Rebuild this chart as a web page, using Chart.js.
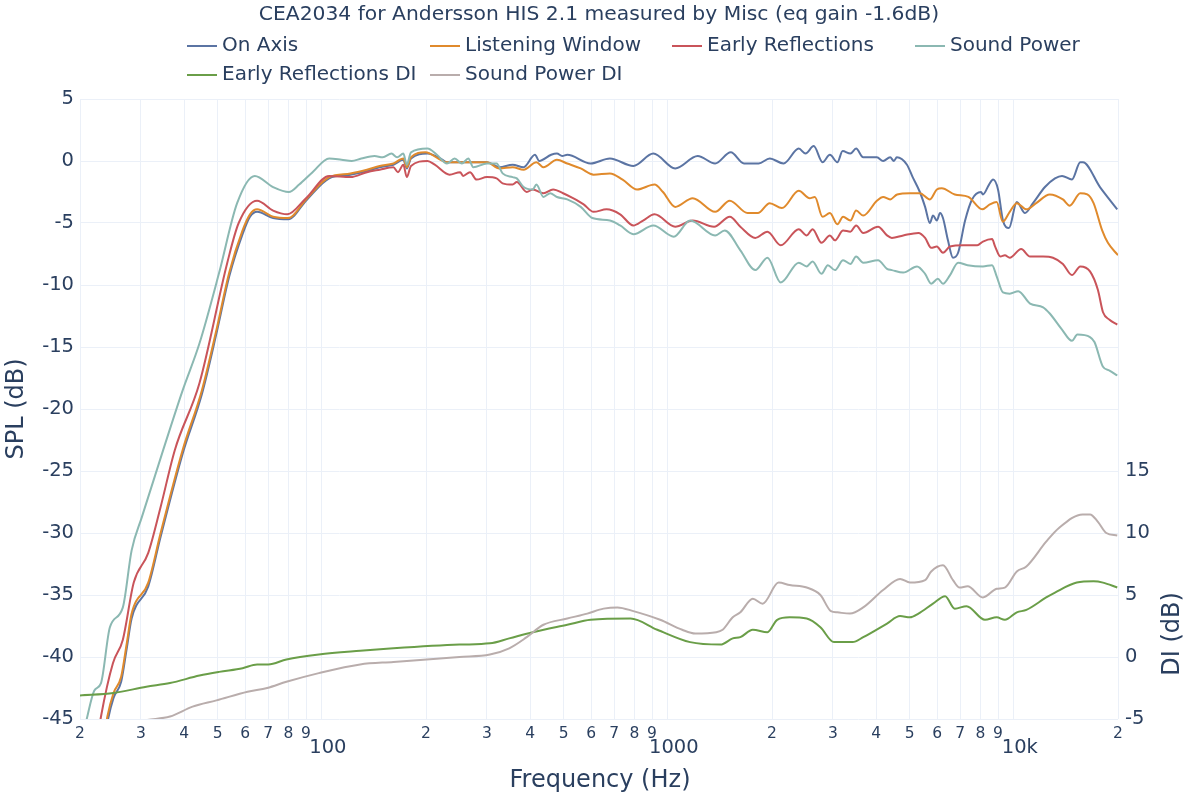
<!DOCTYPE html>
<html><head><meta charset="utf-8">
<script src="https://cdn.jsdelivr.net/npm/chart.js@4.4.1/dist/chart.umd.min.js"></script>
<style>html,body{margin:0;padding:0;background:#fff}</style>
</head><body>
<canvas id="c" width="1200" height="800"></canvas>
<script>
// ---------- data ----------
const titleText = 'CEA2034 for Andersson HIS 2.1 measured by Misc (eq gain -1.6dB)';
const seriesNames = ['On Axis','Listening Window','Early Reflections','Sound Power','Early Reflections DI','Sound Power DI'];

const freqOnAxis = [22,24,25,26.3,27.3,28.2,31.5,34.2,39.6,45,49.6,54,59,62,65,72.3,80,90,105,121,135,147,161,172,176,181,202,220,230,262,300,326,356,383,413,425,460,478,495,512,598,680,795,908,1050,1220,1370,1520,1660,1830,1970,2160,2390,2500,2640,2800,2940,3090,3200,3370,3500,3670,4020,4190,4390,4500,4590,4910,5100,5350,5540,5720,5840,5990,6120,6240,6450,6670,6900,7230,7570,8040,8140,8480,8710,9000,9300,9680,10200,10770,11360,12300,13150,13780,14720,15560,15840,17740,19900];
const splOnAxis  = [-53,-45.3,-43.3,-42.0,-39.3,-36.9,-34.3,-30.3,-23.6,-18.8,-13.9,-9.3,-5.9,-4.5,-4.1,-4.6,-4.7,-3.2,-1.4,-1.1,-0.8,-0.5,-0.3,0.1,-0.6,0.2,0.6,0.2,-0.1,-0.1,-0.1,-0.5,-0.3,-0.5,0.5,0.0,0.5,0.6,0.4,0.5,-0.2,0.2,-0.4,0.6,-0.6,0.4,-0.2,0.7,-0.2,-0.2,0.2,-0.2,1.0,0.6,1.2,-0.1,0.5,-0.1,0.8,0.6,1.0,0.3,0.3,0.0,0.3,0.0,0.3,-0.3,-1.3,-2.5,-3.7,-5.0,-4.4,-4.8,-4.2,-4.6,-6.4,-7.8,-7.4,-4.8,-3.1,-2.5,-2.7,-1.9,-1.5,-2.3,-4.8,-5.4,-3.3,-4.2,-3.4,-2.1,-1.4,-1.2,-1.5,-0.1,-0.1,-2.1,-3.9];

const freqListening = [22,24,25,26.3,27.3,28.2,31.5,34.2,39.6,45,49.6,54,59,62,65,72.3,80,90,105,121,135,147,161,172,176,181,199,230,262,300,326,356,383,417,437,478,512,560,610,680,740,815,915,968,1050,1180,1370,1510,1700,1820,1970,2136,2390,2570,2660,2800,2940,3090,3210,3370,3500,3670,4020,4190,4390,4600,5010,5350,5720,5990,6190,6750,7390,8100,8520,8920,9290,9730,10200,10870,11600,12700,13860,14500,15560,16300,17000,18000,18700,20000];
const splListening  = [-52,-44.8,-42.9,-41.6,-38.9,-36.5,-34.0,-30.0,-23.3,-18.5,-13.6,-9.0,-5.6,-4.3,-3.9,-4.5,-4.6,-3.1,-1.3,-1.0,-0.7,-0.4,-0.2,0.2,-0.5,0.3,0.7,-0.1,-0.1,-0.1,-0.6,-0.5,-0.7,-0.1,-0.5,0.1,-0.2,-0.6,-1.1,-1.0,-1.5,-2.3,-1.9,-2.5,-3.7,-3.0,-4.1,-3.2,-4.2,-4.2,-3.4,-3.8,-2.4,-3.0,-2.9,-4.5,-4.2,-5.1,-4.5,-4.8,-4.0,-4.4,-3.2,-2.9,-3.1,-2.7,-2.6,-2.6,-3.1,-2.3,-2.2,-2.7,-2.9,-3.9,-3.5,-3.3,-4.9,-4.1,-3.4,-3.9,-3.4,-2.7,-3.1,-3.6,-2.6,-2.7,-3.4,-5.6,-6.6,-7.6];

const freqEarly = [21,23,24.9,26.6,28.6,31.5,34.2,37.6,44.3,53.3,57.5,65,72.3,79.5,90,105,121,135,147,161,166,172,176,181,202,212,234,251,256,268,280,300,320,333,356,366,391,407,437,466,498,532,571,610,665,728,795,848,915,1050,1180,1360,1510,1620,1790,1940,2120,2390,2520,2620,2780,2940,3040,3210,3370,3500,3670,4050,4300,4440,4790,5300,5540,5770,5990,6240,6540,7130,7840,8140,8650,8830,9140,9420,9730,10500,11140,12150,12970,13860,14720,15560,16600,17500,18100,18900,19900];
const splEarly  = [-52,-44.8,-40.5,-38.6,-34.0,-31.6,-27.9,-23.3,-17.9,-8.2,-5.0,-3.2,-4.0,-4.3,-3.0,-1.2,-1.3,-0.9,-0.7,-0.5,-0.9,-0.3,-1.3,-0.4,0.0,-0.3,-1.1,-0.9,-1.2,-0.9,-1.5,-1.3,-1.4,-1.8,-1.9,-1.7,-2.5,-2.3,-2.6,-2.3,-2.6,-3.0,-3.5,-4.1,-3.9,-4.3,-5.2,-4.8,-4.3,-5.3,-4.8,-5.3,-4.5,-5.3,-6.2,-5.7,-6.8,-5.5,-6.0,-5.5,-6.6,-6.0,-6.4,-5.6,-5.7,-5.2,-5.8,-5.3,-6.0,-6.2,-6.0,-5.8,-6.2,-7.0,-6.9,-7.4,-6.9,-6.8,-6.8,-6.5,-6.3,-6.9,-7.7,-7.6,-7.8,-7.1,-7.7,-7.7,-7.8,-8.3,-9.2,-8.5,-8.9,-10.4,-12.2,-12.8,-13.2];

const freqSoundPower = [20,21,22,23,24.4,26.6,28.2,30.2,34.8,39.6,44.3,50.5,56.9,64,72.3,80.3,86,94,105,114,122,130,142,150,159,165,172,176,181,202,215,230,242,254,265,274,300,320,333,356,366,383,407,417,437,457,478,512,560,605,680,728,795,908,1040,1160,1370,1460,1620,1790,1940,2120,2390,2520,2620,2780,2900,3040,3210,3370,3500,3670,4050,4300,4440,4790,5250,5540,5770,6030,6240,6540,6900,7350,8140,8650,8920,9300,9730,10300,11140,12150,12700,13780,14720,15260,16600,17100,18100,18900,19900];
const splSoundPower  = [-47.5,-44.8,-42.7,-42.1,-37.6,-36.0,-31.4,-28.7,-23.3,-18.5,-14.7,-9.0,-3.4,-1.2,-2.1,-2.5,-1.9,-0.9,0.2,0.1,0.0,0.2,0.4,0.3,0.6,0.3,0.6,-0.3,0.7,1.0,0.5,-0.2,0.2,-0.2,0.2,-0.5,-0.2,-0.2,-1.0,-1.3,-1.4,-2.1,-2.3,-1.9,-2.9,-2.6,-2.9,-3.1,-3.7,-4.6,-4.8,-5.2,-5.9,-5.2,-6.1,-4.8,-6.0,-5.6,-7.2,-8.8,-7.8,-9.8,-8.2,-8.5,-8.1,-9.1,-8.4,-8.8,-8.0,-8.3,-7.7,-8.2,-8.0,-8.7,-8.8,-9.0,-8.5,-9.1,-9.9,-9.5,-9.9,-9.2,-8.2,-8.4,-8.5,-8.4,-9.3,-10.6,-10.7,-10.5,-11.5,-11.8,-12.3,-13.6,-14.5,-14.0,-14.2,-14.6,-16.6,-16.9,-17.3];

const freqEarlyDI = [20,25,31.1,36.4,44.3,50.5,59,65,70,79,98,129,161,250,306,348,407,512,598,780,932,1160,1420,1540,1620,1760,1940,2070,2250,2520,2760,3020,3420,3670,4300,4690,5010,5300,5840,6330,6750,7300,8250,8920,9420,10200,10870,12400,13150,15200,17000,18100,19900];
const diEarly = [-3.1,-2.9,-2.4,-2.1,-1.5,-1.2,-0.9,-0.6,-0.6,-0.2,0.2,0.5,0.7,1.0,1.1,1.5,2.0,2.6,3.0,3.1,2.2,1.2,1.0,1.5,1.6,2.2,2.0,3.0,3.2,3.1,2.4,1.2,1.2,1.6,2.7,3.3,3.2,3.5,4.3,4.9,3.9,4.1,3.0,3.2,3.0,3.6,3.8,4.8,5.2,6.0,6.1,6.0,5.6];

const freqSoundPowerDI = [20,25,31,36.4,42.3,49.6,61,69.5,79,98,129,161,250,306,348,391,437,512,585,652,715,795,950,1100,1200,1380,1440,1540,1620,1760,1880,2090,2250,2520,2760,2960,3090,3360,3670,4190,4690,5010,5540,5770,6240,6670,6970,7350,8140,8920,9420,10200,10870,12400,13500,15800,16600,17500,18500,19900];
const diSoundPower = [-6.3,-5.7,-5.1,-4.8,-4.0,-3.5,-2.8,-2.5,-2.0,-1.3,-0.6,-0.4,0.0,0.2,0.7,1.6,2.6,3.1,3.5,3.9,4.0,3.7,3.0,2.2,1.9,2.0,2.2,3.2,3.6,4.7,4.3,6.0,5.8,5.6,5.0,3.7,3.6,3.5,4.0,5.4,6.3,6.0,6.2,6.9,7.4,6.2,5.6,5.7,4.8,5.5,5.6,6.9,7.3,9.3,10.4,11.5,11.5,10.9,10.0,9.8];

const xTickValues = [20,30,40,50,60,70,80,90,100,200,300,400,500,600,700,800,900,1000,2000,3000,4000,5000,6000,7000,8000,9000,10000,20000];
const xTickLabels = ['2','3','4','5','6','7','8','9','100','2','3','4','5','6','7','8','9','1000','2','3','4','5','6','7','8','9','10k','2'];
const xMajorTicks = [100,1000,10000];
const splTicks = [-45,-40,-35,-30,-25,-20,-15,-10,-5,0,5];
const diTicks = [-5,0,5,10,15];
const colors = ['#5b74a3','#e08a2c','#c9545a','#8bb8b2','#6a9e48','#b9adac'];

// ---------- build ----------
const FONT = 'DejaVu Sans, Verdana, sans-serif';
const TEXT = '#2a3f5f';
const GRID = '#ebf0f8';
function pts(f, v){ return f.map((x,i)=>({x:x, y:v[i]})); }
const seriesData = [
  pts(freqOnAxis, splOnAxis), pts(freqListening, splListening), pts(freqEarly, splEarly),
  pts(freqSoundPower, splSoundPower), pts(freqEarlyDI, diEarly), pts(freqSoundPowerDI, diSoundPower)
];
const datasets = seriesData.map((d,i)=>({
  label: seriesNames[i], data: d, borderColor: colors[i], backgroundColor: colors[i],
  borderWidth: 2, pointRadius: 0, cubicInterpolationMode: 'monotone', fill: false,
  yAxisID: i < 4 ? 'y' : 'y2', order: 6 - i
}));

const overlay = {
  id: 'overlay',
  afterDraw(chart){
    const ctx = chart.ctx, xs = chart.scales.x;
    ctx.save();
    ctx.fillStyle = TEXT;
    // title
    ctx.font = '20.3px ' + FONT; ctx.textAlign = 'center'; ctx.textBaseline = 'middle';
    ctx.fillText(titleText, 599, 15);
    // legend
    const lx = [187,430,672,915,187,430], ly = [46,46,46,46,75,75];
    ctx.font = '20px ' + FONT; ctx.textAlign = 'left';
    seriesNames.forEach((n,i)=>{
      ctx.strokeStyle = colors[i]; ctx.lineWidth = 2;
      ctx.beginPath(); ctx.moveTo(lx[i], ly[i]); ctx.lineTo(lx[i]+30, ly[i]); ctx.stroke();
      ctx.fillStyle = TEXT; ctx.fillText(n, lx[i]+35, ly[i]);
    });
    // x tick labels
    ctx.textAlign = 'center';
    xTickValues.forEach((v,i)=>{
      const px = xs.getPixelForValue(v);
      if (xMajorTicks.includes(v)) { ctx.font = '19.5px ' + FONT; ctx.fillText(xTickLabels[i], px + 6, 748); }
      else { ctx.font = '15.5px ' + FONT; ctx.fillText(xTickLabels[i], px, 734); }
    });
    // axis titles
    ctx.font = '24px ' + FONT;
    ctx.fillText('Frequency (Hz)', 600, 781);
    ctx.save(); ctx.translate(17, 409); ctx.rotate(-Math.PI/2); ctx.fillText('SPL (dB)', 0, 0); ctx.restore();
    ctx.save(); ctx.translate(1173, 634); ctx.rotate(-Math.PI/2); ctx.fillText('DI (dB)', 0, 0); ctx.restore();
    ctx.restore();
  }
};

new Chart(document.getElementById('c'), {
  type: 'line',
  data: { datasets },
  options: {
    responsive: false, devicePixelRatio: 1, animation: false, parsing: true,
    layout: { padding: { top: 99, left: 0, right: 0, bottom: 0 } },
    plugins: { legend: { display: false }, title: { display: false }, tooltip: { enabled: false } },
    scales: {
      x: {
        type: 'logarithmic', min: 20, max: 20000,
        afterBuildTicks: s => { s.ticks = xTickValues.map(v => ({ value: v })); },
        ticks: { display: false },
        grid: { color: GRID, drawTicks: false, lineWidth: 1 },
        border: { display: false },
        afterFit: s => { s.height = 81; }
      },
      y: {
        position: 'left', min: -45, max: 5,
        afterBuildTicks: s => { s.ticks = splTicks.map(v => ({ value: v })); },
        ticks: { font: { family: FONT, size: 19.5 }, color: TEXT, padding: 6 },
        grid: { color: GRID, drawTicks: false, lineWidth: 1 },
        border: { display: false },
        afterFit: s => { s.width = 80; }
      },
      y2: {
        position: 'right', min: -5, max: 45,
        afterBuildTicks: s => { s.ticks = diTicks.map(v => ({ value: v })); },
        ticks: { font: { family: FONT, size: 19.5 }, color: TEXT, padding: 7 },
        grid: { display: false, drawTicks: false },
        border: { display: false },
        afterFit: s => { s.width = 82; }
      }
    }
  },
  plugins: [overlay]
});
</script>
</body></html>
